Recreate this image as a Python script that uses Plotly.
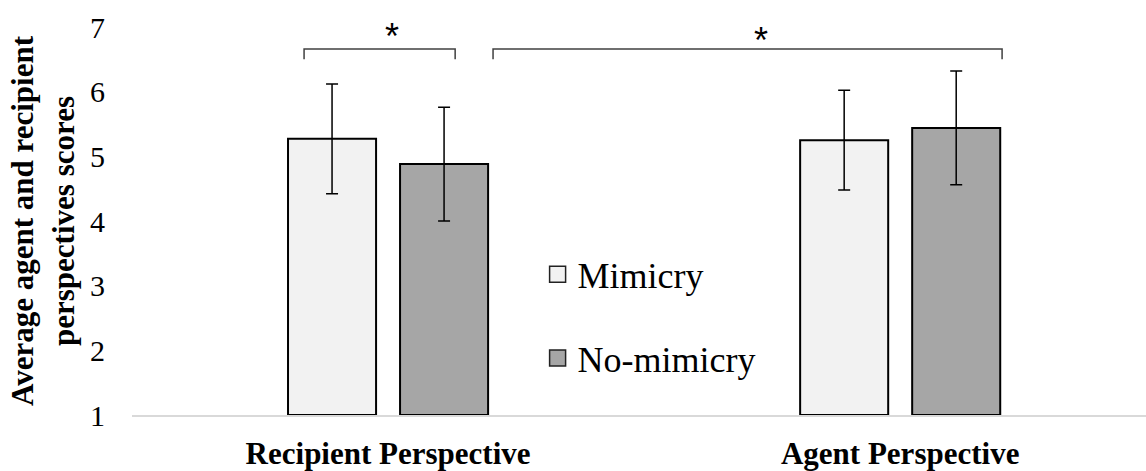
import plotly.graph_objects as go

categories = ["Recipient Perspective", "Agent Perspective"]
series_names = ["Mimicry", "No-mimicry"]
mimicry_values = [5.27, 5.25]
mimicry_errors = [0.85, 0.77]
nomimicry_values = [4.88, 5.44]
nomimicry_errors = [0.88, 0.88]
y_ticks = [1, 2, 3, 4, 5, 6, 7]
sig_labels = ["*", "*"]

colors = ["#f2f2f2", "#a6a6a6"]
serif = "Liberation Serif, Times New Roman, serif"

fig = go.Figure()
for name, vals, errs, col in zip(series_names,
                                 [mimicry_values, nomimicry_values],
                                 [mimicry_errors, nomimicry_errors],
                                 colors):
    fig.add_trace(go.Bar(
        x=categories, y=[v - 1 for v in vals], base=1, name=name,
        marker=dict(color=col, line=dict(color="black", width=2)),
        error_y=dict(type="data", array=errs, color="black", thickness=1.5, width=6),
        showlegend=False,
    ))
    fig.add_trace(go.Scatter(
        x=[None], y=[None], mode="markers", name=name, legendgroup=name,
        marker=dict(symbol="square", size=16, color=col, line=dict(color="#222", width=1.5)),
    ))

# significance brackets (category index coordinates)
brackets = [(-0.164, 0.131, 6.66, 6.50), (0.205, 1.199, 6.66, 6.50)]
star_pos = [(0.008, 6.86), (0.729, 6.79)]
shapes = []
for x0, x1, yl, yb in brackets:
    shapes.append(dict(type="path", xref="x", yref="y",
                       path=f"M {x0},{yb} L {x0},{yl} L {x1},{yl} L {x1},{yb}",
                       line=dict(color="#404040", width=1.5)))
annotations = []
for (sx, sy), lab in zip(star_pos, sig_labels):
    annotations.append(dict(x=sx, y=sy, xref="x", yref="y", text=lab, showarrow=False,
                            font=dict(family="Liberation Sans, Arial, sans-serif", size=36, color="black"),
                            xanchor="center", yanchor="middle"))

fig.update_layout(
    width=1146, height=471,
    margin=dict(l=132, r=0, t=27, b=56),
    paper_bgcolor="white", plot_bgcolor="white",
    barmode="group", bargap=0.5625, bargroupgap=0.214,
    shapes=shapes, annotations=annotations,
    legend=dict(x=0.4, y=0.44, xanchor="left", yanchor="top",
                font=dict(family=serif, size=36, color="black"),
                tracegroupgap=34, bgcolor="rgba(0,0,0,0)"),
    xaxis=dict(range=[-0.5, 1.48], showline=True, linecolor="#d9d9d9", linewidth=2,
               showgrid=False, ticks="", ticklabelstandoff=10, automargin=False,
               tickfont=dict(family=serif, size=31, color="black", weight="bold")),
    yaxis=dict(range=[1, 7], tickvals=y_ticks, showline=False, showgrid=False,
               zeroline=False, ticks="", ticklabelstandoff=26, automargin=False,
               tickfont=dict(family=serif, size=30, color="black"),
               title=dict(text="<b>Average agent and recipient<br>perspectives scores</b>",
                          font=dict(family=serif, size=31, color="black"), standoff=6)),
    font=dict(family=serif),
)

fig.write_html("out.html", config={"displayModeBar": False},
               post_script="document.body.style.margin='0px';")
